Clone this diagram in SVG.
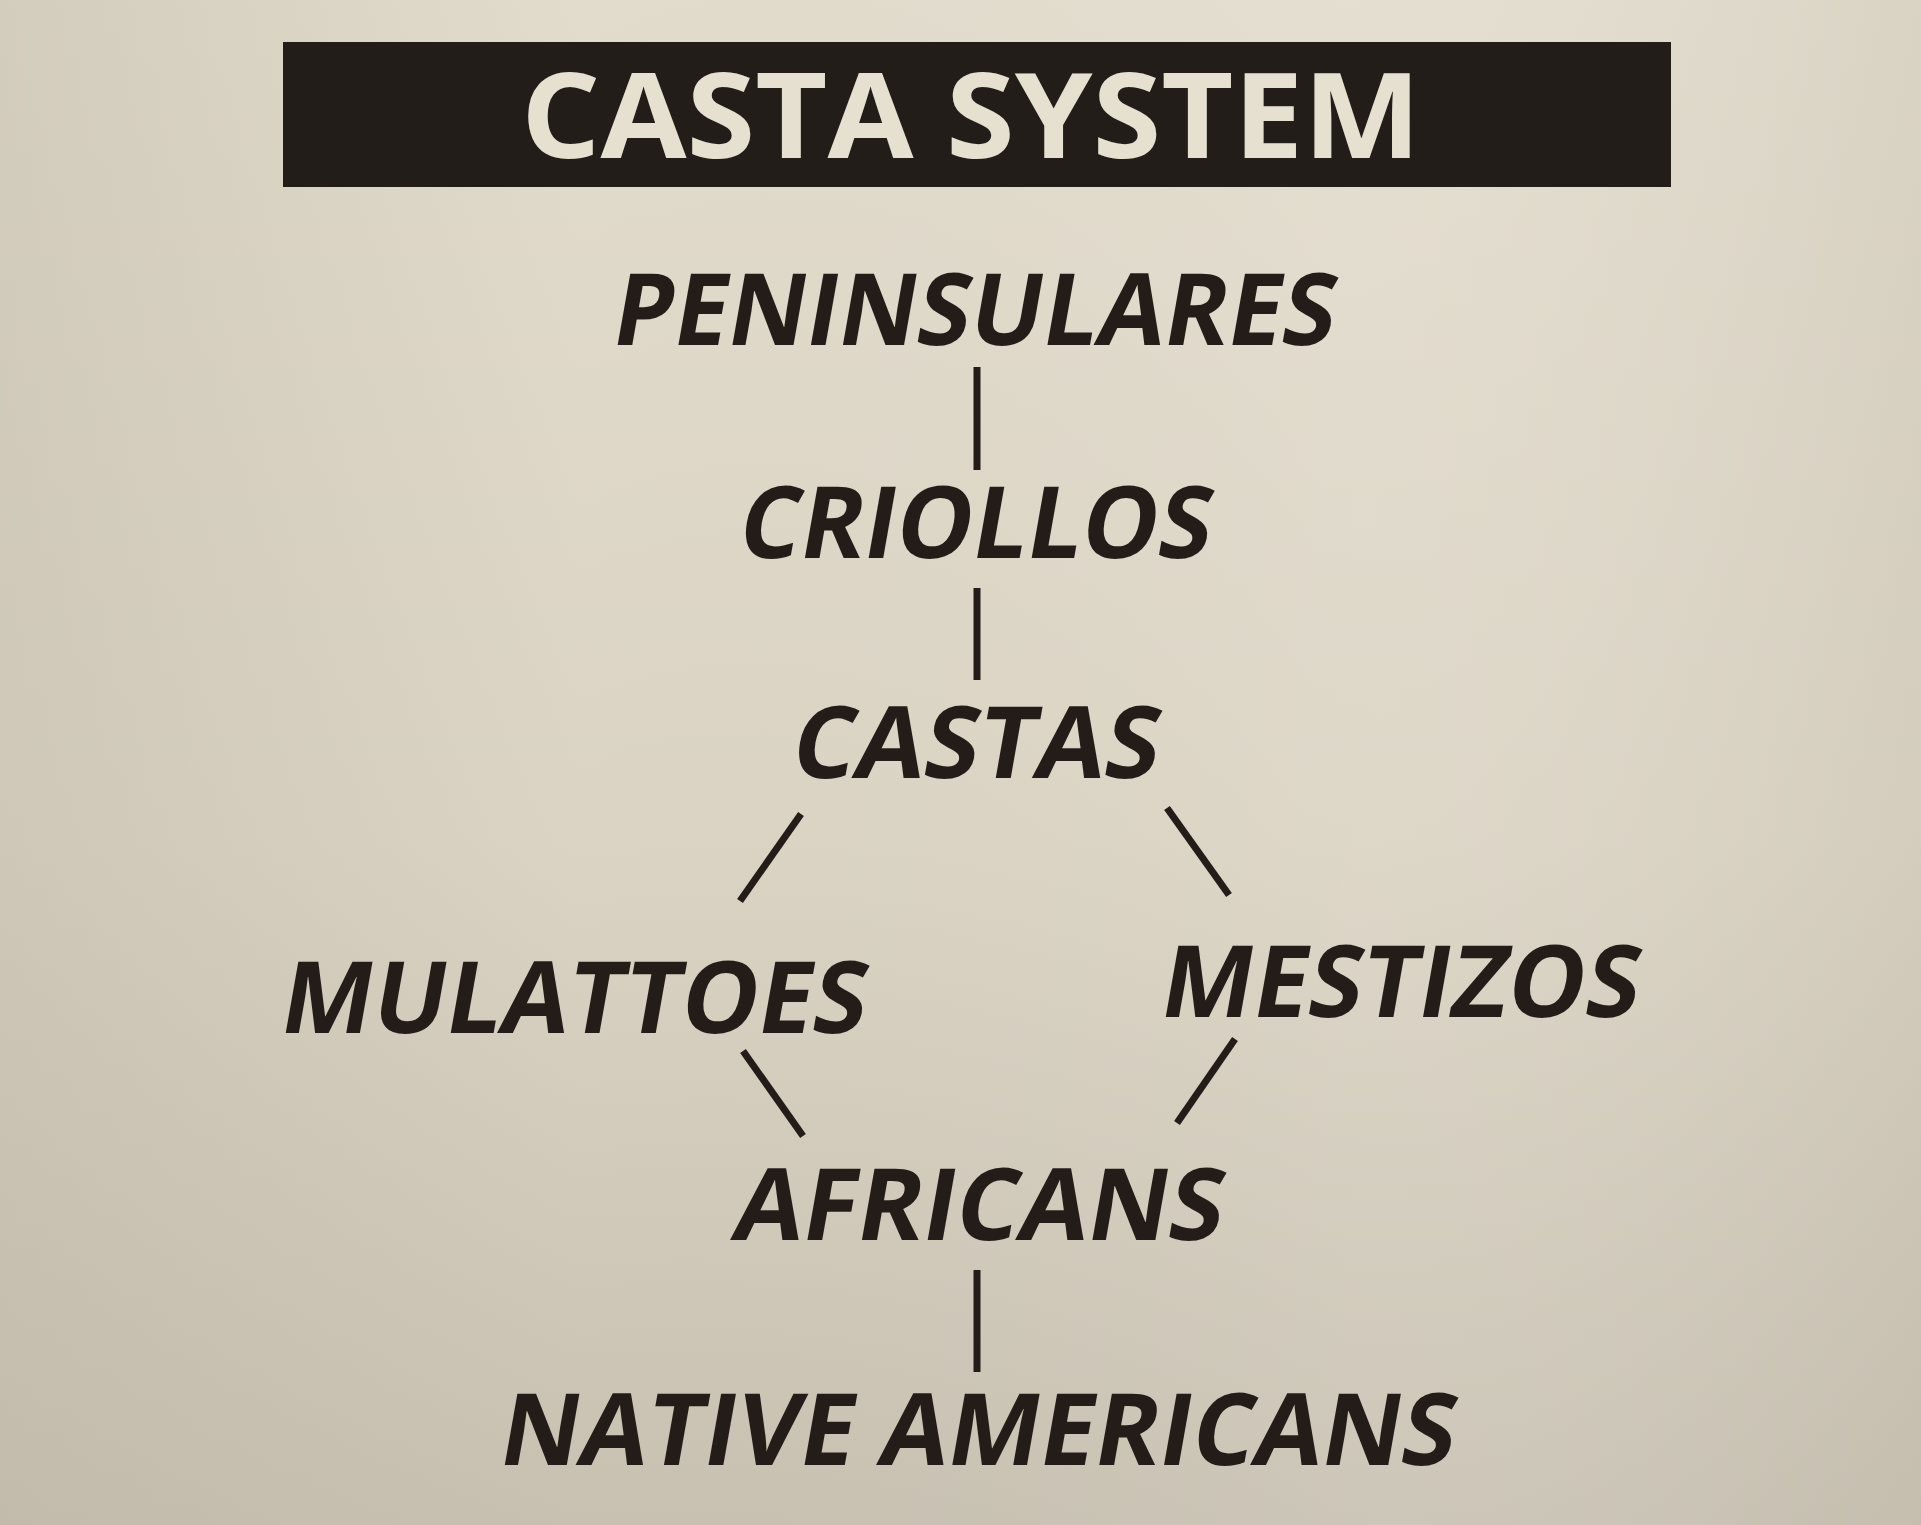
<svg xmlns="http://www.w3.org/2000/svg" width="1921" height="1525" viewBox="0 0 1921 1525">
<style>
.lbl{font-family:"Open Sans","Noto Sans","Liberation Sans",sans-serif;font-weight:700;font-size:100px;fill:#231c19}
.title{font-family:"Open Sans","Noto Sans","Liberation Sans",sans-serif;font-weight:700;font-size:119px;fill:#e6e0d1}
.conn line{stroke:#231c19;stroke-width:7;stroke-linecap:butt}
</style>
<defs>
<linearGradient id="bg" x1="0" y1="0" x2="0" y2="1">
<stop offset="0" stop-color="#e2dccd"/>
<stop offset="0.55" stop-color="#dbd4c4"/>
<stop offset="1" stop-color="#c8c1b2"/>
</linearGradient>
<linearGradient id="bgx" x1="0" y1="0" x2="1" y2="0">
<stop offset="0" stop-color="#b8b1a2" stop-opacity="0.35"/>
<stop offset="0.3" stop-color="#b8b1a2" stop-opacity="0"/>
<stop offset="0.7" stop-color="#ffffff" stop-opacity="0.08"/>
<stop offset="1" stop-color="#b8b1a2" stop-opacity="0.2"/>
</linearGradient>
</defs>
<rect width="1921" height="1525" fill="url(#bg)"/>
<rect width="1921" height="1525" fill="url(#bgx)"/>
<g id="title">
<rect x="283" y="42" width="1388" height="145" fill="#231d1a"/>
<text class="title" x="521" y="158" textLength="900" lengthAdjust="spacingAndGlyphs">CASTA SYSTEM</text>
</g>
<g id="connectors" class="conn">
<line x1="977" y1="367" x2="977" y2="470"/>
<line x1="977" y1="588" x2="977" y2="680"/>
<line x1="801" y1="814" x2="740" y2="901"/>
<line x1="1167" y1="808" x2="1229" y2="895"/>
<line x1="743" y1="1051" x2="803" y2="1136"/>
<line x1="1235" y1="1039" x2="1177" y2="1123"/>
<line x1="977" y1="1270" x2="977" y2="1372"/>
</g>
<g id="peninsulares"><text class="lbl" transform="translate(609,345) skewX(-10)" textLength="722" lengthAdjust="spacingAndGlyphs">PENINSULARES</text></g>
<g id="criollos"><text class="lbl" transform="translate(735,558) skewX(-10)" textLength="472" lengthAdjust="spacingAndGlyphs">CRIOLLOS</text></g>
<g id="castas"><text class="lbl" transform="translate(788,778) skewX(-10)" textLength="367" lengthAdjust="spacingAndGlyphs">CASTAS</text></g>
<g id="mulattoes"><text class="lbl" transform="translate(277,1033) skewX(-10)" textLength="585" lengthAdjust="spacingAndGlyphs">MULATTOES</text></g>
<g id="mestizos"><text class="lbl" transform="translate(1157,1017) skewX(-10)" textLength="478" lengthAdjust="spacingAndGlyphs">MESTIZOS</text></g>
<g id="africans"><text class="lbl" transform="translate(730,1240) skewX(-10)" textLength="489" lengthAdjust="spacingAndGlyphs">AFRICANS</text></g>
<g id="native-americans"><text class="lbl" transform="translate(496,1465) skewX(-10)" textLength="955" lengthAdjust="spacingAndGlyphs">NATIVE AMERICANS</text></g>
</svg>
